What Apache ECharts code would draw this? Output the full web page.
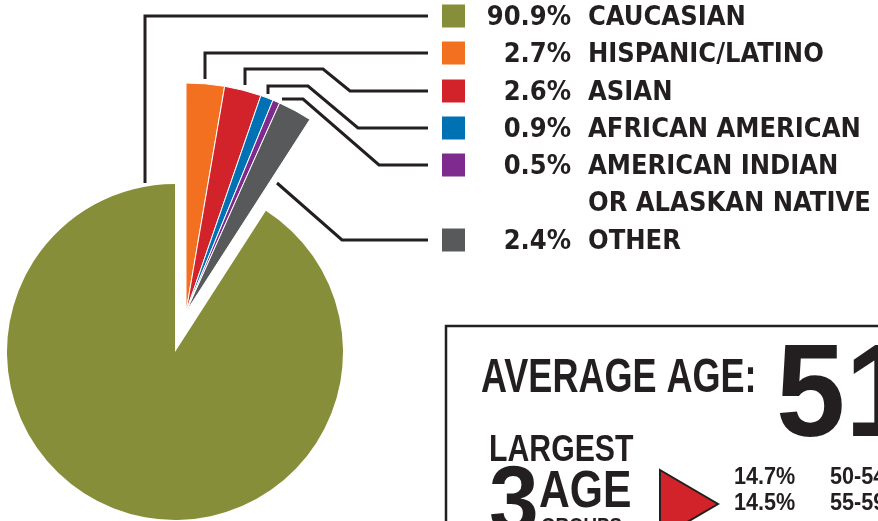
<!DOCTYPE html>
<html><head><meta charset="utf-8">
<script src="https://cdn.jsdelivr.net/npm/echarts@6/dist/echarts.min.js"></script>
<style>html,body{margin:0;padding:0;background:#fff;overflow:hidden}#c{width:878px;height:521px}</style>
</head><body><div id="c"></div>
<script>
// ---- data ----
const categories = ['CAUCASIAN', 'HISPANIC/LATINO', 'ASIAN', 'AFRICAN AMERICAN', 'AMERICAN INDIAN\nOR ALASKAN NATIVE', 'OTHER'];
const shares = [90.9, 2.7, 2.6, 0.9, 0.5, 2.4];
const averageAge = 51;
const ageGroupShares = [14.7, 14.5];
const ageGroupLabels = ['50-54', '55-59'];

// ---- styles / layout ----
const colors = ['#878e39', '#f37021', '#d2232a', '#0071b2', '#7e2a8e', '#58595b'];
const FONT = "'DejaVu Sans Condensed',sans-serif";
const FONT2 = "'Liberation Sans',Arial,sans-serif";
const INK = '#231f20';
const leaders = [
  [[145, 183], [145, 16], [428, 16]],
  [[205, 79], [205, 53], [428, 53]],
  [[245, 85], [245, 69], [323, 69], [350, 91], [428, 91]],
  [[268, 94], [268, 86], [308, 86], [358, 128], [428, 128]],
  [[282, 99], [303, 99], [379, 165], [428, 165]],
  [[277, 183], [342, 240], [428, 240]]
];
const legendY = [16, 53, 91, 128, 165, 240];
const LH = 37;
const FS = 27;
const PCT_COL = 106;   // width of the right-aligned percentage column
const NAME_GAP = 17;
const TXT_DOWN = 4;    // nudges text slightly below the swatch centre

const measureCtx = document.createElement('canvas').getContext('2d');
measureCtx.font = 'bold ' + FS + 'px ' + FONT;
const pctText = v => v.toFixed(1) + '%';

const tokenBase = { fontSize: FS, fontWeight: 'bold', fontFamily: FONT, color: INK, lineHeight: LH, align: 'left' };
const rich = {
  n: Object.assign({ padding: [TXT_DOWN, 0, 0, NAME_GAP] }, tokenBase),
  ind: { width: 23 + PCT_COL, height: 23, lineHeight: LH, align: 'left' }
};
colors.forEach((c, i) => {
  rich['s' + i] = { width: 23, height: 23, backgroundColor: c, lineHeight: LH, align: 'left' };
  const w = measureCtx.measureText(pctText(shares[i])).width;
  rich['p' + i] = Object.assign({ padding: [TXT_DOWN, 0, 0, Math.max(0, PCT_COL - w)] }, tokenBase);
});

function labelText(i) {
  if (i == null || categories[i] == null) return '';
  const parts = categories[i].split('\n');
  let t = '{s' + i + '|}{p' + i + '|' + pctText(shares[i]) + '}{n|' + parts[0] + '}';
  for (let k = 1; k < parts.length; k++) t += '\n{ind|}{n|' + parts[k] + '}';
  return t;
}

const smallSum = shares.slice(1).reduce((a, b) => a + b, 0);
const hidden = {
  itemStyle: { color: 'rgba(0,0,0,0)', borderWidth: 0 },
  label: { show: false }, labelLine: { show: false },
  emphasis: { disabled: true }, tooltip: { show: false }
};

const labelLineBase = { show: true, lineStyle: { color: INK, width: 3, cap: 'butt', join: 'miter' }, smooth: false };

function makeSeriesLabel(dataArr) {
  return {
    show: true, position: 'outside', width: 440, overflow: 'none', align: 'left',
    fontSize: FS, fontWeight: 'bold', fontFamily: FONT, color: INK, lineHeight: LH,
    rich: rich,
    formatter: p => { const d = dataArr[p.dataIndex]; return labelText(d ? d.cat : null); }
  };
}
function layoutFor(d) {
  if (!d || d.cat == null) return {};
  const cat = d.cat;
  return {
    x: 442, y: legendY[cat] - LH / 2, align: 'left', verticalAlign: 'top',
    labelLinePoints: leaders[cat]
  };
}

const series1Data = [
  Object.assign({ value: smallSum, name: 'gap' }, hidden),
  { value: shares[0], name: categories[0], cat: 0, itemStyle: { color: colors[0] } }
];
const series2Data = shares.slice(1).map((v, k) => ({
  value: v, name: categories[k + 1], cat: k + 1, itemStyle: { color: colors[k + 1] }
}));
series2Data.push(Object.assign({ value: shares[0], name: 'rest' }, hidden));

const chart = echarts.init(document.getElementById('c'), null, { renderer: 'canvas' });

const T = (text, x, y, size, sx, extra) => ({
  type: 'text', x: x, y: y, z: 10, scaleX: sx,
  style: Object.assign({ text: String(text), fontSize: size, fontWeight: 'bold', fontFamily: FONT2, fill: INK, align: 'left', verticalAlign: 'middle' }, extra || {})
});

const graphics = [
  { type: 'rect', shape: { x: 446, y: 326, width: 600, height: 400 }, style: { fill: 'none', stroke: INK, lineWidth: 2.5 } },
  T('AVERAGE AGE:', 481, 378, 49, 0.735),
  T(String(averageAge), 776, 400, 131, 0.95),
  T('LARGEST', 489, 451, 36, 0.84),
  T('3', 489, 506, 94, 0.95),
  T('AGE', 539, 493, 52, 0.82),
  T('GROUPS', 541, 527, 22, 0.85),
  { type: 'polygon', shape: { points: [[660, 470], [718, 504], [660, 538]] }, style: { fill: '#d2232a', stroke: INK, lineWidth: 2 } }
];
ageGroupShares.forEach((s, i) => {
  graphics.push(T(s.toFixed(1) + '%', 734, 477 + i * 26, 24, 0.9));
  graphics.push(T(ageGroupLabels[i], 830, 477 + i * 26, 24, 0.9));
});

chart.setOption({
  animation: false,
  backgroundColor: '#ffffff',
  series: [
    {
      type: 'pie', center: [175, 352], radius: 168, startAngle: 90, clockwise: true,
      avoidLabelOverlap: false, silent: true,
      itemStyle: { borderWidth: 0 },
      label: makeSeriesLabel(series1Data), labelLine: labelLineBase,
      labelLayout: p => layoutFor(series1Data[p.dataIndex]),
      data: series1Data
    },
    {
      type: 'pie', center: [186, 312], radius: 229, startAngle: 90, clockwise: true,
      avoidLabelOverlap: false, silent: true,
      itemStyle: { borderColor: '#ffffff', borderWidth: 1 },
      label: makeSeriesLabel(series2Data), labelLine: labelLineBase,
      labelLayout: p => layoutFor(series2Data[p.dataIndex]),
      data: series2Data
    }
  ],
  graphic: graphics
});
</script></body></html>
